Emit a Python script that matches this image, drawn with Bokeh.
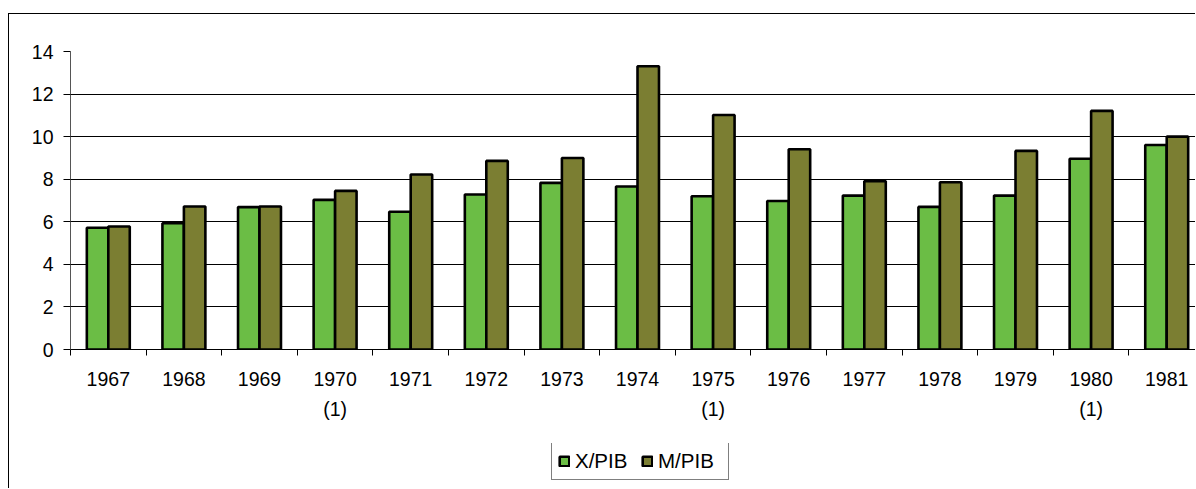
from bokeh.plotting import figure
from bokeh.layouts import column
from bokeh.models import Range1d, FixedTicker, Legend, LegendItem, ColumnDataSource
from bokeh.transform import dodge
from bokeh.embed import file_html
from bokeh.resources import INLINE

# ---- data ----
years = ["1967", "1968", "1969", "1970", "1971", "1972", "1973", "1974",
         "1975", "1976", "1977", "1978", "1979", "1980", "1981"]
notes = ["", "", "", "(1)", "", "", "", "", "(1)", "", "", "", "", "(1)", ""]
x_pib = [5.72, 5.93, 6.69, 7.03, 6.47, 7.28, 7.83, 7.66, 7.20, 6.98, 7.23, 6.70, 7.23, 8.96, 9.61]
m_pib = [5.78, 6.72, 6.72, 7.45, 8.22, 8.86, 9.00, 13.31, 11.02, 9.41, 7.91, 7.86, 9.33, 11.21, 10.00]
y_ticks = [0, 2, 4, 6, 8, 10, 12, 14]
series_names = ["X/PIB", "M/PIB"]
colors = ["#6BBD45", "#7B7E32"]

n = len(years)
centers = [i + 0.5 for i in range(n)]
bounds = [float(i) for i in range(n + 1)]

source = ColumnDataSource(dict(pos=centers, x=x_pib, m=m_pib))

FONT = "Liberation Sans"
FS = "19.5px"

p = figure(width=1187, height=430,
           x_range=Range1d(0, 14.894), y_range=Range1d(0, 14),
           output_backend="svg", toolbar_location=None,
           min_border_left=61, min_border_right=0,
           min_border_top=37, min_border_bottom=95)
p.outline_line_color = None
p.background_fill_color = "white"
p.border_fill_color = "white"
p.styles = {"margin-left": "8px", "margin-top": "13px",
            "border-left": "1px solid black", "border-top": "1px solid black"}

bw = 0.284
p.vbar(x=dodge("pos", -bw / 2, range=p.x_range), top="x", width=bw, source=source,
       fill_color=colors[0], line_color="black", line_width=2.6)
p.vbar(x=dodge("pos", bw / 2, range=p.x_range), top="m", width=bw, source=source,
       fill_color=colors[1], line_color="black", line_width=2.6)

# x axis: labels at centers, ticks at category boundaries
xa = p.xaxis[0]
xa.ticker = FixedTicker(ticks=centers, minor_ticks=bounds)
xa.major_label_overrides = {c: (y if not nt else y + "\n" + nt) for c, y, nt in zip(centers, years, notes)}
xa.major_tick_line_color = None
xa.major_tick_out = 0
xa.major_tick_in = 0
xa.minor_tick_line_color = "black"
xa.minor_tick_out = 6
xa.minor_tick_in = 0
xa.axis_line_color = "black"
xa.major_label_standoff = 12
xa.major_label_text_font = FONT
xa.major_label_text_font_size = FS
xa.major_label_text_color = "black"
xa.major_label_text_line_height = 1.4

ya = p.yaxis[0]
ya.ticker = FixedTicker(ticks=y_ticks)
ya.minor_tick_line_color = None
ya.major_tick_out = 7
ya.major_tick_in = 0
ya.major_tick_line_color = "black"
ya.axis_line_color = "#555555"
ya.major_label_standoff = 10
ya.major_label_text_font = FONT
ya.major_label_text_font_size = FS
ya.major_label_text_color = "black"

p.xgrid.grid_line_color = None
p.ygrid.ticker = FixedTicker(ticks=y_ticks)
p.ygrid.grid_line_color = "black"
p.ygrid.grid_line_width = 1

# ---- legend strip below the chart (hidden renderers; only their legend glyphs show) ----
lf = figure(width=1187, height=45, x_range=Range1d(0, 14.894), y_range=Range1d(0, 14),
            output_backend="svg", toolbar_location=None,
            x_axis_location=None, y_axis_location=None,
            min_border_left=61, min_border_right=0, min_border_top=0, min_border_bottom=0)
lf.outline_line_color = None
lf.xgrid.grid_line_color = None
lf.ygrid.grid_line_color = None
lf.background_fill_color = "white"
lf.border_fill_color = "white"
lf.styles = {"margin-left": "8px", "border-left": "1px solid black"}
g1 = lf.vbar(x="pos", top="x", width=0.1, source=source, visible=False,
             fill_color=colors[0], line_color="black", line_width=2.6)
g2 = lf.vbar(x="pos", top="m", width=0.1, source=source, visible=False,
             fill_color=colors[1], line_color="black", line_width=2.6)
legend = Legend(items=[LegendItem(label=series_names[0], renderers=[g1]),
                       LegendItem(label=series_names[1], renderers=[g2])],
                orientation="horizontal", location=(481, 8), click_policy="none",
                glyph_width=12, glyph_height=12, label_standoff=5, spacing=2,
                padding=6, margin=0, label_height=20, label_width=64,
                label_text_font=FONT, label_text_font_size="20.5px", label_text_color="black",
                border_line_color="black", border_line_width=1,
                background_fill_color="white", background_fill_alpha=1)
lf.add_layout(legend, "center")

layout = column(p, lf, spacing=0)
open("out.html", "w").write(file_html(layout, INLINE))
